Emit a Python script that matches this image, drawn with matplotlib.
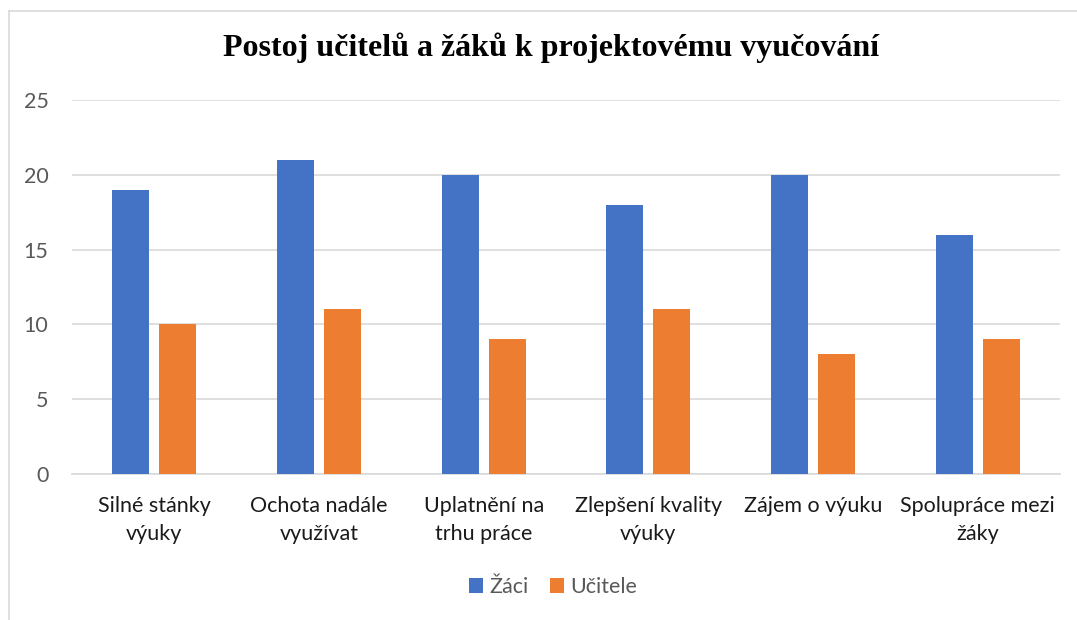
import matplotlib.pyplot as plt
import numpy as np

categories = ["Silné stánky\nvýuky", "Ochota nadále\nvyužívat", "Uplatnění na\ntrhu práce",
              "Zlepšení kvality\nvýuky", "Zájem o výuku", "Spolupráce mezi\nžáky"]
zaci = [19, 21, 20, 18, 20, 16]
ucitele = [10, 11, 9, 11, 8, 9]

W, H = 1077, 620
fig = plt.figure(figsize=(W / 100, H / 100), dpi=100)
ax = fig.add_axes([72 / W, 1 - 474 / H, (1060 - 72) / W, (474 - 100) / H])

x = np.arange(len(categories))
bw = 0.225
ax.bar(x - 0.1425, zaci, bw, color="#4472C4", label="Žáci", zorder=3)
ax.bar(x + 0.1425, ucitele, bw, color="#ED7D31", label="Učitele", zorder=3)

ax.set_xlim(-0.5, len(categories) - 0.5)
ax.set_ylim(0, 25)
ax.set_yticks(range(0, 26, 5))
ax.grid(axis="y", color="#d9d9d9", linewidth=1.2, zorder=0)
for s in ["top", "right", "left"]:
    ax.spines[s].set_visible(False)
ax.spines["bottom"].set_color("#d9d9d9")
ax.spines["bottom"].set_linewidth(1.2)
ax.tick_params(axis="both", length=0)
ax.tick_params(axis="y", pad=17, labelsize=15.5, labelcolor="#595959")
ax.set_xticks(x)
ax.set_xticklabels(categories, fontsize=15.5, color="#1a1a1a", linespacing=1.55, family="Lato")
for t in ax.get_yticklabels():
    t.set_family("Lato")
ax.tick_params(axis="x", pad=15.5)

fig.text(551 / W, 1 - 48 / H, "Postoj učitelů a žáků k projektovému vyučování", ha="center", va="center",
         fontsize=23, fontweight="bold", family="Liberation Serif")

leg = fig.legend(loc="center", bbox_to_anchor=(553 / W, 1 - 587 / H), ncol=2, frameon=False,
                 prop={"family": "Lato", "size": 15.5}, handlelength=0.65, handleheight=0.65,
                 handletextpad=0.3, columnspacing=1.0)
for t in leg.get_texts():
    t.set_color("#595959")

# chart frame (cropped at right and bottom)
fig.add_artist(plt.Line2D([9 / W, 9 / W], [0, 1 - 11 / H], transform=fig.transFigure, color="#d9d9d9", lw=1.2))
fig.add_artist(plt.Line2D([9 / W, 1], [1 - 11 / H, 1 - 11 / H], transform=fig.transFigure, color="#d9d9d9", lw=1.2))

fig.savefig("out.png", dpi=100)
